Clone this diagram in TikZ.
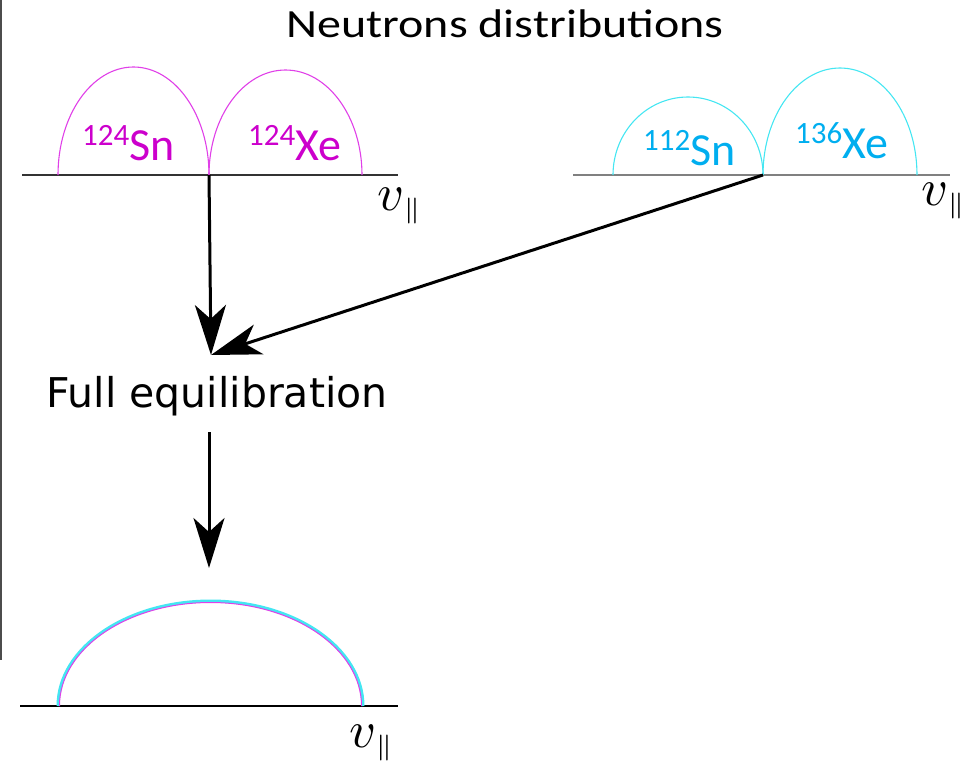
\documentclass[tikz,border=0pt]{standalone}
\usepackage{graphicx}
\usepackage{fontspec}
\setmainfont{Carlito}
\newfontfamily\dejavu{DejaVu Sans}
\usetikzlibrary{arrows.meta}
\definecolor{magtext}{HTML}{CC00CC}
\definecolor{magline}{HTML}{E040E8}
\definecolor{cyanline}{HTML}{44E6F2}
\definecolor{cyantext}{HTML}{00AEEF}
\newcommand{\iso}[2]{{\fontsize{31}{31}\selectfont\raisebox{15pt}{#1}}#2}
\newcommand{\vpar}{\scalebox{5.2}{$v_{\scriptscriptstyle\|}$}}

\begin{document}
\begin{tikzpicture}[x=1pt,y=-1pt,
  axis/.style={line width=1.6pt},
  bump/.style={line width=1.1pt},
  flow/.style={line width=3pt,-{Stealth[length=50pt,width=31pt,inset=14pt]}},
  isolabel/.style={anchor=base west,inner sep=0pt,font=\fontsize{46}{46}\selectfont},
  vlabel/.style={anchor=base west,inner sep=0pt}]
\useasboundingbox (0,0) rectangle (967,764);
% frame edge on the left
\draw[line width=1.5pt,black!70] (0.8,0) -- (0.8,660);
% title
\node[anchor=base,inner sep=0pt,xscale=1.2,font=\fontsize{40}{40}\selectfont] (title) at (505,37) {Neutrons distributions};
% top left: 124Sn + 124Xe
\draw[axis,black!80] (22,175) -- (398,175);
\draw[bump,magline] (58,175) arc[start angle=180,end angle=0,x radius=75.5pt,y radius=108pt];
\draw[bump,magline] (209,175) arc[start angle=180,end angle=0,x radius=76.5pt,y radius=105pt];
\node[isolabel,magtext] (snL) at (82,160) {\iso{124}{Sn}};
\node[isolabel,magtext] (xeL) at (248,160) {\iso{124}{Xe}};
\node[vlabel] (vL) at (377,210) {\vpar};
\coordinate (jL) at (209,175);
% top right: 112Sn + 136Xe
\draw[axis,black!50] (573,175) -- (950,175);
\draw[bump,cyanline] (613,175) arc[start angle=180,end angle=0,x radius=75pt,y radius=78pt];
\draw[bump,cyanline] (763,175) arc[start angle=180,end angle=0,x radius=77pt,y radius=107pt];
\node[isolabel,cyantext] (snR) at (643,165) {\iso{112}{Sn}};
\node[isolabel,cyantext] (xeR) at (795,158) {\iso{136}{Xe}};
\node[vlabel] (vR) at (921,205) {\vpar};
\coordinate (jR) at (763,175);
% equilibration
\coordinate (eqin) at (211,355);
\node[anchor=base,inner sep=0pt,font=\dejavu\fontsize{41}{41}\selectfont] (eq) at (217,407) {Full equilibration};
\coordinate (eqout) at (209,432);
\coordinate (eqtip) at (209,568);
\draw[flow] (jL) -- (eqin);
\draw[flow] (jR) -- (eqin);
\draw[flow] (eqout) -- (eqtip);
% bottom: equilibrated distribution
\draw[axis,black] (20,706) -- (398,706);
\draw[line width=3pt,cyanline] (58,706) arc[start angle=180,end angle=0,x radius=152.5pt,y radius=105pt];
\draw[line width=1pt,magline] (59.5,706) arc[start angle=180,end angle=0,x radius=151pt,y radius=103.5pt];
\node[vlabel] (vB) at (349,747) {\vpar};
\end{tikzpicture}
\end{document}
